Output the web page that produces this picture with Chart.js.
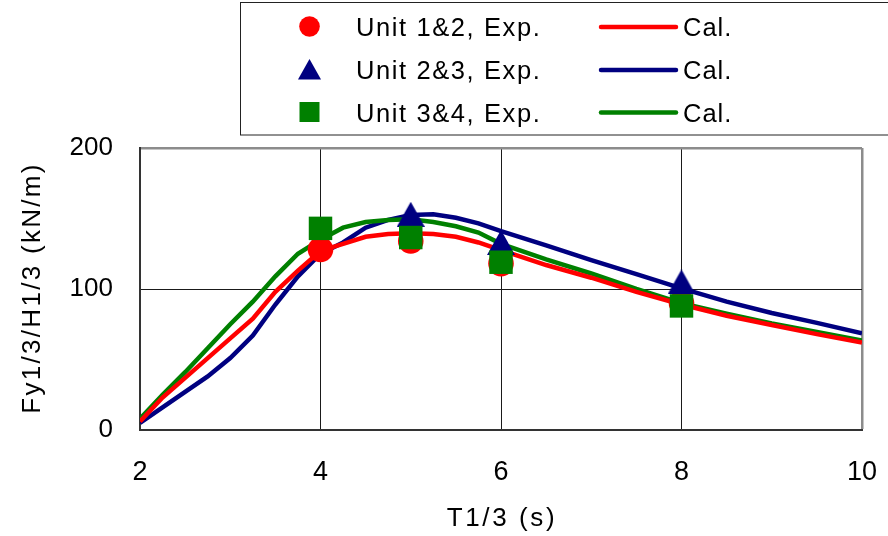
<!DOCTYPE html>
<html>
<head>
<meta charset="utf-8">
<style>
  html, body { margin: 0; padding: 0; background: #fff; }
  #wrap { width: 888px; height: 536px; position: relative; }
</style>
<script src="https://cdn.jsdelivr.net/npm/chart.js@4.4.1/dist/chart.umd.min.js"></script>
</head>
<body>
<div id="wrap"><canvas id="c" width="888" height="536"></canvas></div>
<script>
// Axis ticks
const xTicks = [2, 4, 6, 8, 10];
const yTicks = [0, 100, 200];

// Experimental results (wave period T1/3 vs. Fy1/3/H1/3)
const exp12X = [4, 5, 6, 8];
const exp12Y = [128, 134, 118, 90];
const exp23X = [5, 6, 8];
const exp23Y = [153, 133, 105];
const exp34X = [4, 5, 6, 8];
const exp34Y = [143, 136.5, 119, 88];

// Calculated curves
const calX  = [2, 2.25, 2.5, 2.75, 3, 3.25, 3.5, 3.75, 4, 4.25, 4.5, 4.75, 5, 5.25, 5.5, 5.75, 6, 6.5, 7, 7.5, 8, 8.5, 9, 9.5, 10];
const cal12 = [6, 23, 37, 51, 65, 79, 98, 113, 127, 132, 137, 139, 139.5, 139, 137, 133, 127.5, 117, 108, 98, 89, 81, 74.5, 68, 62];
const cal23 = [5, 16, 27, 38, 51, 67, 89, 109, 125, 133, 143.5, 149, 152.5, 153, 150.5, 146.5, 141, 131, 120.5, 110.5, 100.5, 91, 83, 76, 68.5];
const cal34 = [8, 25, 41, 58, 75, 91, 109, 125, 135, 143.5, 147.5, 149, 149.5, 147.5, 144.5, 140, 132, 121, 111, 100, 90, 82.5, 75.5, 69.5, 63.5];

const RED = '#ff0000', NAVY = '#000080', GREEN = '#008000';
const FONT = "'Liberation Sans', Arial, sans-serif";

function pts(xs, ys) { return xs.map((x, i) => ({ x: x, y: ys[i] })); }

// Triangle marker centred on its bounding box
function triangleImage(w, h, color) {
  const cv = document.createElement('canvas');
  cv.width = w; cv.height = h;
  const g = cv.getContext('2d');
  g.fillStyle = color;
  g.beginPath();
  g.moveTo(w / 2, 0);
  g.lineTo(w, h);
  g.lineTo(0, h);
  g.closePath();
  g.fill();
  return cv;
}
const triPlot = triangleImage(28, 25, NAVY);

function calSet(data, color) {
  return {
    data: data, showLine: true, borderColor: color, borderWidth: 4.5,
    pointRadius: 0, pointHoverRadius: 0, tension: 0, fill: false, order: 10
  };
}

// Legend box, axis titles
const decor = {
  id: 'decor',
  afterDraw(chart) {
    const ctx = chart.ctx;
    ctx.save();
    // legend frame
    ctx.strokeStyle = '#222';
    ctx.lineWidth = 1;
    ctx.strokeRect(240.5, 2.5, 700, 132.5);

    const rows = [26.5, 69.5, 112];
    // markers
    ctx.fillStyle = RED;
    ctx.beginPath(); ctx.arc(309.5, rows[0], 10.3, 0, Math.PI * 2); ctx.fill();
    ctx.fillStyle = NAVY;
    ctx.beginPath();
    ctx.moveTo(309.5, rows[1] - 10.5); ctx.lineTo(321, rows[1] + 10); ctx.lineTo(298, rows[1] + 10);
    ctx.closePath(); ctx.fill();
    ctx.fillStyle = GREEN;
    ctx.fillRect(299.5, rows[2] - 10, 20, 20);

    // line samples
    const cols = [RED, NAVY, GREEN];
    ctx.lineCap = 'round';
    ctx.lineWidth = 4.5;
    cols.forEach((c, i) => {
      ctx.strokeStyle = c;
      ctx.beginPath(); ctx.moveTo(601, rows[i] + 0.5); ctx.lineTo(676, rows[i] + 0.5); ctx.stroke();
    });

    // legend text
    ctx.fillStyle = '#000';
    ctx.font = '25.5px ' + FONT;
    ctx.textBaseline = 'alphabetic';
    ctx.textAlign = 'left';
    ctx.letterSpacing = '1.6px';
    const labels = ['Unit 1&2, Exp.', 'Unit 2&3, Exp.', 'Unit 3&4, Exp.'];
    labels.forEach((t, i) => ctx.fillText(t, 356, rows[i] + 9.5));
    ctx.letterSpacing = '1px';
    labels.forEach((t, i) => ctx.fillText('Cal.', 683, rows[i] + 9.5));

    // axis titles
    ctx.font = '26px ' + FONT;
    ctx.textAlign = 'center';
    ctx.textBaseline = 'middle';
    ctx.letterSpacing = '2.6px';
    ctx.fillText('T1/3 (s)', 502, 519);
    ctx.translate(33, 288);
    ctx.rotate(-Math.PI / 2);
    ctx.letterSpacing = '2.3px';
    ctx.fillText('Fy1/3/H1/3 (kN/m)', 0, 0);
    ctx.restore();
  }
};

new Chart(document.getElementById('c'), {
  type: 'scatter',
  data: {
    datasets: [
      { data: pts(exp34X, exp34Y), pointStyle: 'rect', pointRadius: 16.6, pointHoverRadius: 16.6,
        backgroundColor: GREEN, borderColor: GREEN, borderWidth: 0, order: 1 },
      { data: pts(exp23X, exp23Y), pointStyle: triPlot, pointRadius: 14, pointHoverRadius: 14,
        backgroundColor: NAVY, borderColor: NAVY, borderWidth: 0, order: 2 },
      { data: pts(exp12X, exp12Y), pointStyle: 'circle', pointRadius: 12.8, pointHoverRadius: 12.8,
        backgroundColor: RED, borderColor: RED, borderWidth: 0, order: 3 },
      calSet(pts(calX, cal12), RED),
      calSet(pts(calX, cal34), GREEN),
      calSet(pts(calX, cal23), NAVY)
    ]
  },
  options: {
    responsive: false,
    animation: false,
    devicePixelRatio: 1,
    events: [],
    layout: { padding: { left: 0, top: 148, right: 26, bottom: 0 } },
    plugins: { legend: { display: false }, tooltip: { enabled: false } },
    scales: {
      x: {
        type: 'linear', min: 2, max: 10,
        afterBuildTicks: s => { s.ticks = xTicks.map(v => ({ value: v })); },
        afterFit: s => { s.height = 106; s.paddingLeft = 0; s.paddingRight = 0; },
        ticks: { color: '#000', font: { family: FONT, size: 27 }, padding: 26 },
        grid: {
          drawTicks: false,
          color: c => (c.tick && c.tick.value === 10) ? '#8c8c8c' : '#1a1a1a',
          lineWidth: c => (c.tick && c.tick.value === 10) ? 2.5 : 1
        },
        border: { color: '#333', width: 2 }
      },
      y: {
        type: 'linear', min: 0, max: 200,
        afterBuildTicks: s => { s.ticks = yTicks.map(v => ({ value: v })); },
        afterFit: s => { s.width = 140; s.paddingTop = 0; s.paddingBottom = 0; },
        ticks: { color: '#000', font: { family: FONT, size: 26 }, padding: 27 },
        grid: {
          drawTicks: false,
          color: c => (c.tick && c.tick.value === 200) ? '#8c8c8c' : '#1a1a1a',
          lineWidth: c => (c.tick && c.tick.value === 200) ? 2.5 : 1
        },
        border: { color: '#333', width: 2 }
      }
    }
  },
  plugins: [decor]
});
</script>
</body>
</html>
